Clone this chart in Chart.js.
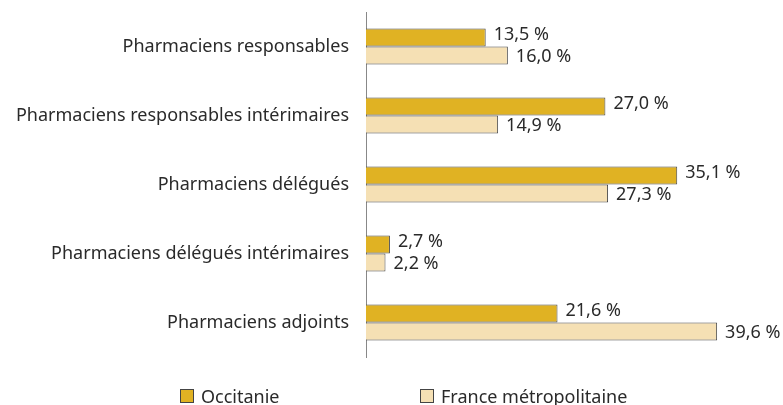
<!DOCTYPE html>
<html>
<head>
<meta charset="utf-8">
<script src="https://cdn.jsdelivr.net/npm/chart.js@4/dist/chart.umd.min.js"></script>
<style>
  body { margin: 0; background: #fff; font-family: "Noto Sans", sans-serif; }
  #wrap { position: relative; width: 783px; height: 405px; }
  #legend { position: absolute; top: 385px; left: 0; width: 783px; height: 22px; font-size: 18px; color: #2a2a2a; }
  .item { position: absolute; top: 0; display: flex; align-items: center; height: 22px; }
  .box { width: 12px; height: 12px; border: 1px solid #444; margin-right: 7px; }
</style>
</head>
<body>
<div id="wrap">
  <canvas id="chart"></canvas>
  <div id="legend">
    <div class="item" style="left:180px"><span class="box" style="background:#e0b223"></span>Occitanie</div>
    <div class="item" style="left:420px"><span class="box" style="background:#f5e0b4"></span>France métropolitaine</div>
  </div>
</div>
<script>
const categories = [
  'Pharmaciens responsables',
  'Pharmaciens responsables intérimaires',
  'Pharmaciens délégués',
  'Pharmaciens délégués intérimaires',
  'Pharmaciens adjoints'
];
const occitanie = [13.5, 27.0, 35.1, 2.7, 21.6];
const france = [16.0, 14.9, 27.3, 2.2, 39.6];

// value labels next to each bar
const valueLabels = {
  id: 'valueLabels',
  afterDatasetsDraw(chart) {
    const ctx = chart.ctx;
    ctx.save();
    ctx.font = '18px "Noto Sans"';
    ctx.fillStyle = '#2a2a2a';
    ctx.textBaseline = 'middle';
    chart.data.datasets.forEach((ds, i) => {
      const dy = i === 0 ? -3 : 1;
      chart.getDatasetMeta(i).data.forEach((bar, j) => {
        const txt = ds.data[j].toFixed(1).replace('.', ',') + ' %';
        ctx.fillText(txt, bar.x + 8, bar.y + dy);
      });
    });
    ctx.restore();
  }
};

new Chart(document.getElementById('chart'), {
  type: 'bar',
  data: {
    labels: categories,
    datasets: [{
      label: 'Occitanie',
      data: occitanie,
      backgroundColor: '#e0b223',
      borderColor: '#4a4a4a',
      borderWidth: 1
    }, {
      label: 'France métropolitaine',
      data: france,
      backgroundColor: '#f5e0b4',
      borderColor: '#4a4a4a',
      borderWidth: 1
    }]
  },
  options: {
    indexAxis: 'y',
    responsive: true,
    maintainAspectRatio: false,
    animation: false,
    categoryPercentage: 0.52,
    barPercentage: 1,
    layout: { padding: { top: 12, bottom: 48, right: 18, left: 0 } },
    plugins: {
      legend: { display: false },
      tooltip: { enabled: false }
    },
    scales: {
      x: { display: false, min: 0, max: 45 },
      y: {
        afterFit: s => {
          s.width = 366;
          s.paddingTop = 0;
          s.paddingBottom = 0;
        },
        grid: { display: false, drawTicks: false },
        border: { display: true, color: '#888', width: 1 },
        ticks: {
          padding: 17,
          color: '#2a2a2a',
          font: { family: 'Noto Sans', size: 18 }
        }
      }
    }
  },
  plugins: [valueLabels]
});
</script>
</body>
</html>
